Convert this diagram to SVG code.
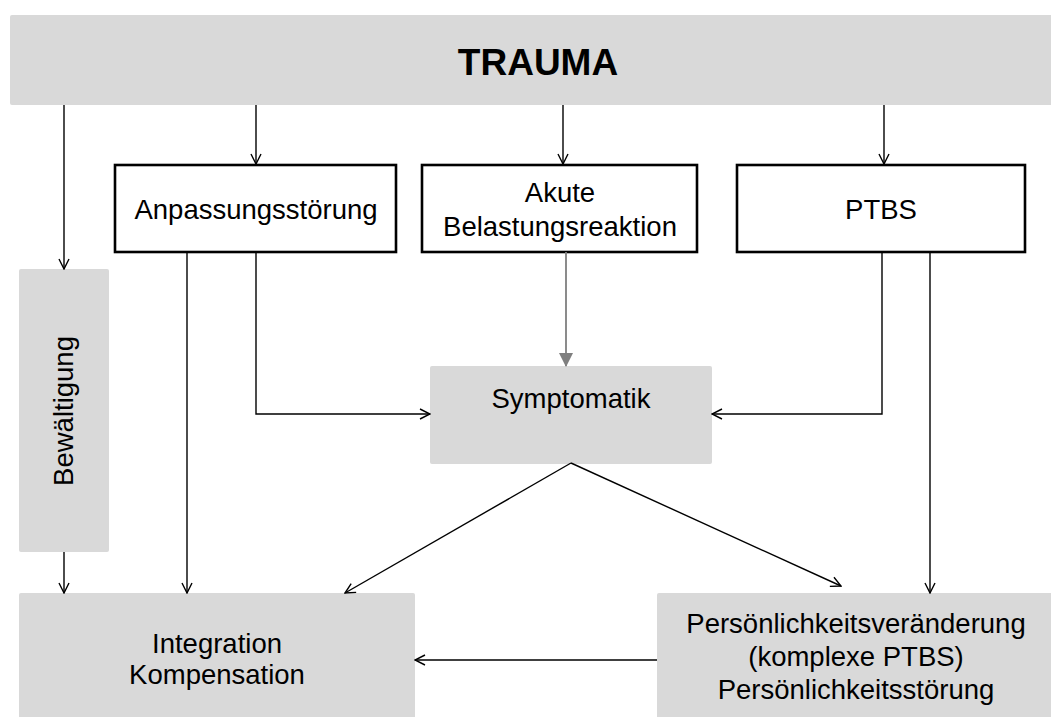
<svg xmlns="http://www.w3.org/2000/svg" width="1051" height="717" viewBox="0 0 1051 717">
<defs>
<style>
.grey{fill:#d9d9d9;}
.white{fill:#ffffff;stroke:#000;stroke-width:2.6;}
.t{font-family:"Liberation Sans",Arial,sans-serif;font-size:27.5px;fill:#000;text-anchor:middle;}
.tb{font-family:"Liberation Sans",Arial,sans-serif;font-size:37px;font-weight:bold;fill:#000;text-anchor:middle;}
.c{fill:none;stroke:#000;stroke-width:1.4;}
.cg{fill:none;stroke:#7f7f7f;stroke-width:1.8;}
</style>
<marker id="ah" viewBox="0 0 12 12" refX="11" refY="6" markerWidth="12" markerHeight="12" markerUnits="userSpaceOnUse" orient="auto">
<path d="M1,1 L11,6 L1,11" fill="none" stroke="#000" stroke-width="1.4"/>
</marker>
<marker id="ahg" viewBox="0 0 14 14" refX="13" refY="7" markerWidth="14" markerHeight="14" markerUnits="userSpaceOnUse" orient="auto">
<path d="M0,0 L14,7 L0,14 Z" fill="#7f7f7f"/>
</marker>
</defs>
<rect width="1051" height="717" fill="#ffffff"/>

<g id="trauma">
<rect class="grey" x="10" y="15" width="1060" height="90" rx="2"/>
<text class="tb" x="538" y="75">TRAUMA</text>
</g>

<g id="anpassung">
<rect class="white" x="115" y="165" width="281" height="87"/>
<text class="t" x="256" y="219">Anpassungsstörung</text>
</g>

<g id="akute">
<rect class="white" x="422" y="165" width="275" height="87"/>
<text class="t" x="560" y="202">Akute</text>
<text class="t" x="560" y="236">Belastungsreaktion</text>
</g>

<g id="ptbs">
<rect class="white" x="737" y="165" width="288" height="87"/>
<text class="t" x="881" y="219">PTBS</text>
</g>

<g id="bewaeltigung">
<rect class="grey" x="19" y="269" width="90" height="283" rx="2"/>
<text class="t" transform="translate(73,411) rotate(-90)" x="0" y="0">Bewältigung</text>
</g>

<g id="symptomatik">
<rect class="grey" x="430" y="366" width="282" height="98" rx="2"/>
<text class="t" x="571" y="408">Symptomatik</text>
</g>

<g id="integration">
<rect class="grey" x="19" y="593" width="396" height="130" rx="2"/>
<text class="t" x="217" y="653">Integration</text>
<text class="t" x="217" y="684">Kompensation</text>
</g>

<g id="persoenlichkeit">
<rect class="grey" x="657" y="593" width="400" height="130" rx="2"/>
<text class="t" x="856" y="633">Persönlichkeitsveränderung</text>
<text class="t" x="856" y="666">(komplexe PTBS)</text>
<text class="t" x="856" y="699">Persönlichkeitsstörung</text>
</g>

<g id="connectors">
<line class="c" x1="64" y1="105" x2="64" y2="269" marker-end="url(#ah)"/>
<line class="c" x1="256" y1="105" x2="256" y2="164" marker-end="url(#ah)"/>
<line class="c" x1="563" y1="105" x2="563" y2="164" marker-end="url(#ah)"/>
<line class="c" x1="884" y1="105" x2="884" y2="164" marker-end="url(#ah)"/>
<line class="cg" x1="566" y1="252" x2="566" y2="366" marker-end="url(#ahg)"/>
<polyline class="c" points="256,253 256,414 430,414" marker-end="url(#ah)"/>
<polyline class="c" points="882,253 882,414 712,414" marker-end="url(#ah)"/>
<line class="c" x1="187" y1="253" x2="187" y2="593" marker-end="url(#ah)"/>
<line class="c" x1="930" y1="253" x2="930" y2="593" marker-end="url(#ah)"/>
<line class="c" x1="64" y1="552" x2="64" y2="593" marker-end="url(#ah)"/>
<line class="c" x1="571" y1="463" x2="345" y2="593" marker-end="url(#ah)"/>
<line class="c" x1="571" y1="463" x2="841" y2="586" marker-end="url(#ah)"/>
<line class="c" x1="657" y1="660" x2="415" y2="660" marker-end="url(#ah)"/>
</g>
</svg>
